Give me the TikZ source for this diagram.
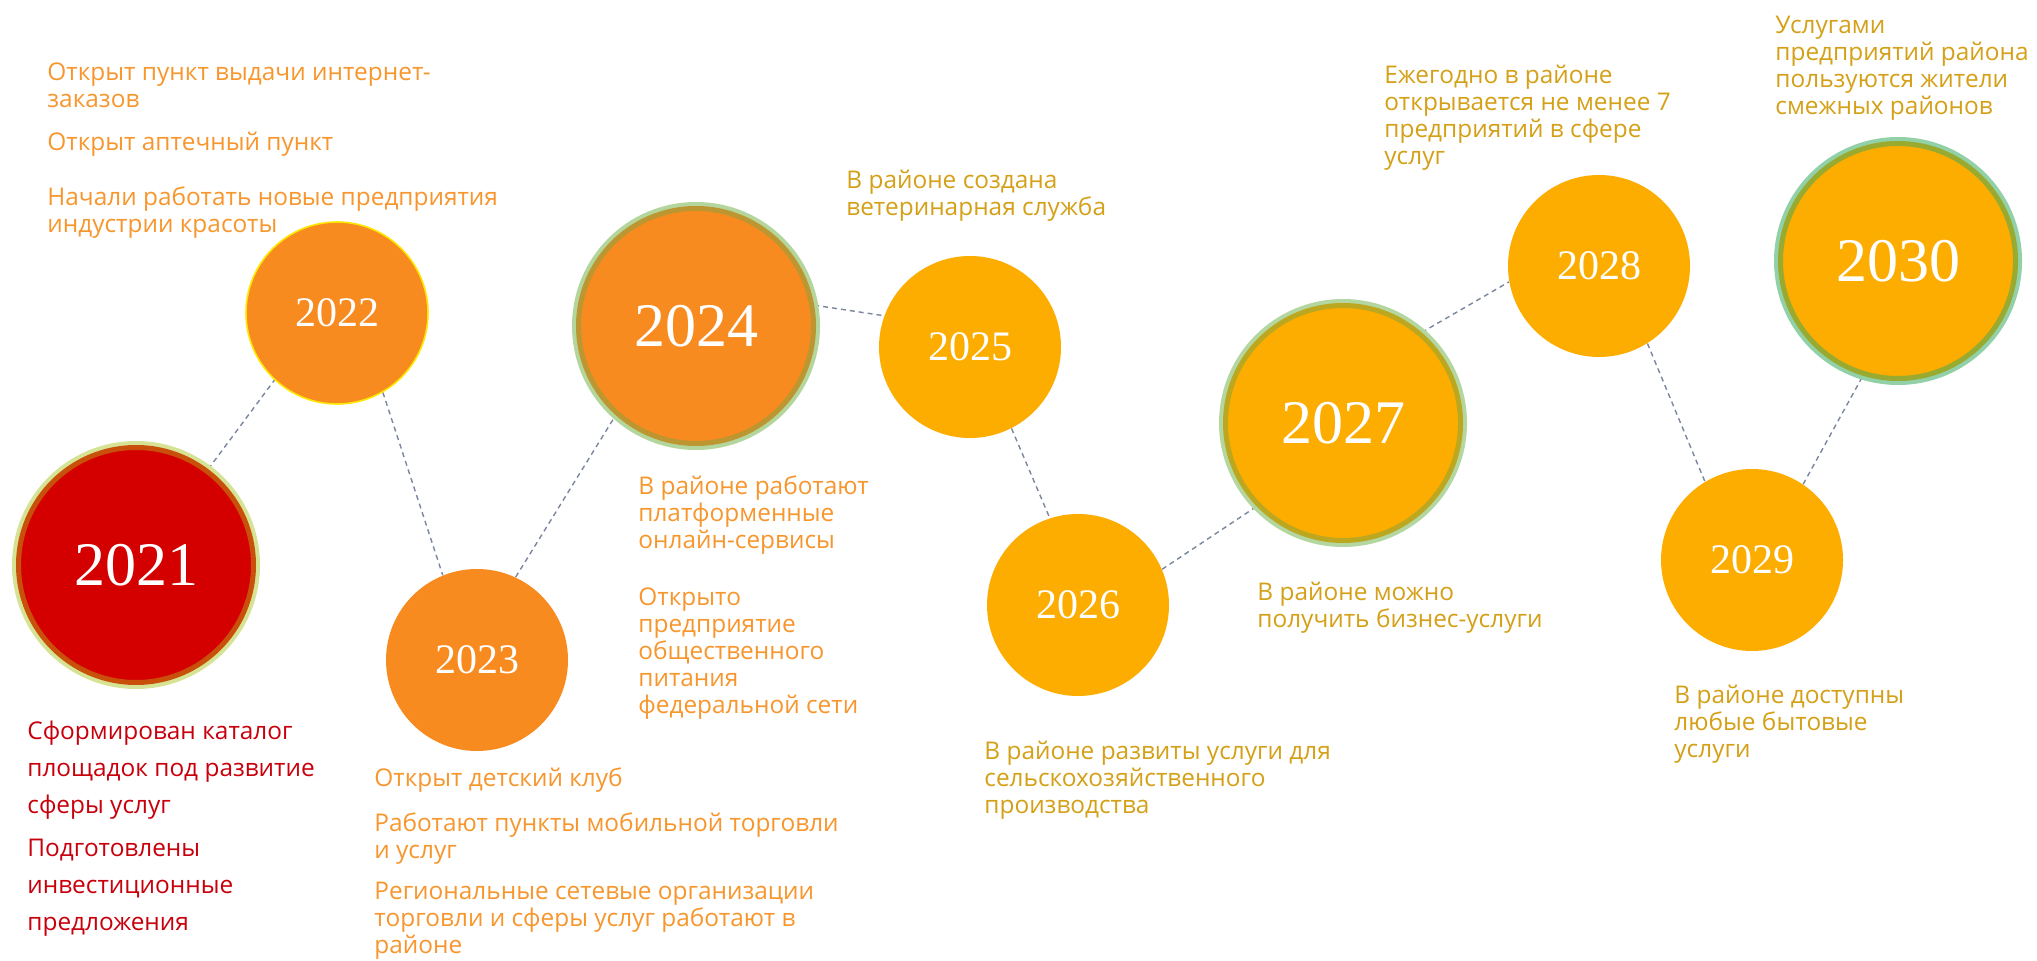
\documentclass[tikz,border=0pt]{standalone}
\usepackage{fontspec}
\setmainfont{Open Sans}
\newfontfamily\yearfont{Liberation Serif}
\usetikzlibrary{backgrounds}
\definecolor{redfill}{HTML}{D40000}
\definecolor{orgfill}{HTML}{F88B20}
\definecolor{ambfill}{HTML}{FCAD00}
\definecolor{redtxt}{HTML}{C8000C}
\definecolor{orgtxt}{HTML}{F7962D}
\definecolor{goldtxt}{HTML}{D4A017}
\definecolor{lnk}{HTML}{7A869E}
\definecolor{ringR}{HTML}{C8500A}
\definecolor{glowR}{HTML}{D6E394}
\definecolor{ringO}{HTML}{BC9630}
\definecolor{glowO}{HTML}{B4D59C}
\definecolor{ringA}{HTML}{BCA820}
\definecolor{glowA}{HTML}{B4D6A0}
\definecolor{ringT}{HTML}{98AA30}
\definecolor{glowT}{HTML}{92D0A8}
\tikzset{
  yr/.style={circle,inner sep=0pt,minimum size=91pt,fill=#1,text=white,
    font=\yearfont\fontsize{21}{21}\selectfont},
  bigyr/.style n args={3}{circle,inner sep=0pt,minimum size=117.5pt,fill=#1,draw=#2,
    line width=2.5pt,preaction={draw=#3,line width=6.5pt},text=white,
    font=\yearfont\fontsize{31}{31}\selectfont},
  note/.style={anchor=north west,inner sep=0pt,align=left,text=#1,
    font=\fontsize{12.2}{13.5}\selectfont},
  link/.style={draw=lnk,line width=0.7pt,dash pattern=on 2.5pt off 2pt},
}

\begin{document}
\begin{tikzpicture}[x=0.5pt,y=-0.5pt]
  \useasboundingbox (0,0) rectangle (2037,961);
  % years
  \node[bigyr={redfill}{ringR}{glowR}] (y21) at (136,565) {2021};
  \node[yr=orgfill,draw=yellow!90!orange,line width=0.8pt] (y22) at (337,313) {2022};
  \node[yr=orgfill] (y23) at (477,660) {2023};
  \node[bigyr={orgfill}{ringO}{glowO}] (y24) at (696,326) {2024};
  \node[yr=ambfill] (y25) at (970,347) {2025};
  \node[yr=ambfill] (y26) at (1078,605) {2026};
  \node[bigyr={ambfill}{ringA}{glowA}] (y27) at (1343,423) {2027};
  \node[yr=ambfill] (y28) at (1599,266) {2028};
  \node[yr=ambfill] (y29) at (1752,560) {2029};
  \node[bigyr={ambfill}{ringT}{glowT}] (y30) at (1898,261) {2030};
  % dashed path between the years
  \begin{scope}[on background layer]
    \draw[link] (y21.53) -- (y22.227);
    \draw[link] (y22.-60) -- (y23.112);
    \draw[link] (y23.65) -- (y24.228);
    \draw[link] (y24.10) -- (y25.160);
    \draw[link] (y25.-63) -- (y26.108);
    \draw[link] (y26.23) -- (y27.224);
    \draw[link] (y27.49) -- (y28.190);
    \draw[link] (y28.-58) -- (y29.121);
    \draw[link] (y29.56) -- (y30.253);
  \end{scope}
  % notes
  \node[note=redtxt,font=\fontsize{12.2}{18.5}\selectfont] (t21a) at (27,721)
    {Сформирован каталог\\площадок под развитие\\сферы услуг};
  \node[note=redtxt,font=\fontsize{12.2}{18.5}\selectfont] (t21b) at (27,839)
    {Подготовлены\\инвестиционные\\предложения};
  \node[note=orgtxt] (t22a) at (47,62) {Открыт пункт выдачи интернет-\\заказов};
  \node[note=orgtxt] (t22b) at (47,132) {Открыт аптечный пункт};
  \node[note=orgtxt] (t22c) at (47,186) {Начали работать новые предприятия\\индустрии красоты};
  \node[note=orgtxt] (t23a) at (374,767) {Открыт детский клуб};
  \node[note=orgtxt] (t23b) at (374,812) {Работают пункты мобильной торговли\\и услуг};
  \node[note=orgtxt] (t23c) at (374,882)
    {Региональные сетевые организации\\торговли и сферы услуг работают в\\районе};
  \node[note=orgtxt] (t24a) at (638,475) {В районе работают\\платформенные\\онлайн-сервисы};
  \node[note=orgtxt] (t24b) at (638,587)
    {Открыто\\предприятие\\общественного\\питания\\федеральной сети};
  \node[note=goldtxt] (t25) at (846,170) {В районе создана\\ветеринарная служба};
  \node[note=goldtxt] (t26) at (984,741)
    {В районе развиты услуги для\\сельскохозяйственного\\производства};
  \node[note=goldtxt] (t27) at (1257,582) {В районе можно\\получить бизнес-услуги};
  \node[note=goldtxt] (t28) at (1384,65)
    {Ежегодно в районе\\открывается не менее 7\\предприятий в сфере\\услуг};
  \node[note=goldtxt] (t29) at (1674,685) {В районе доступны\\любые бытовые\\услуги};
  \node[note=goldtxt] (t30) at (1775,16)
    {Услугами\\предприятий района\\пользуются жители\\смежных районов};
\end{tikzpicture}
\end{document}
